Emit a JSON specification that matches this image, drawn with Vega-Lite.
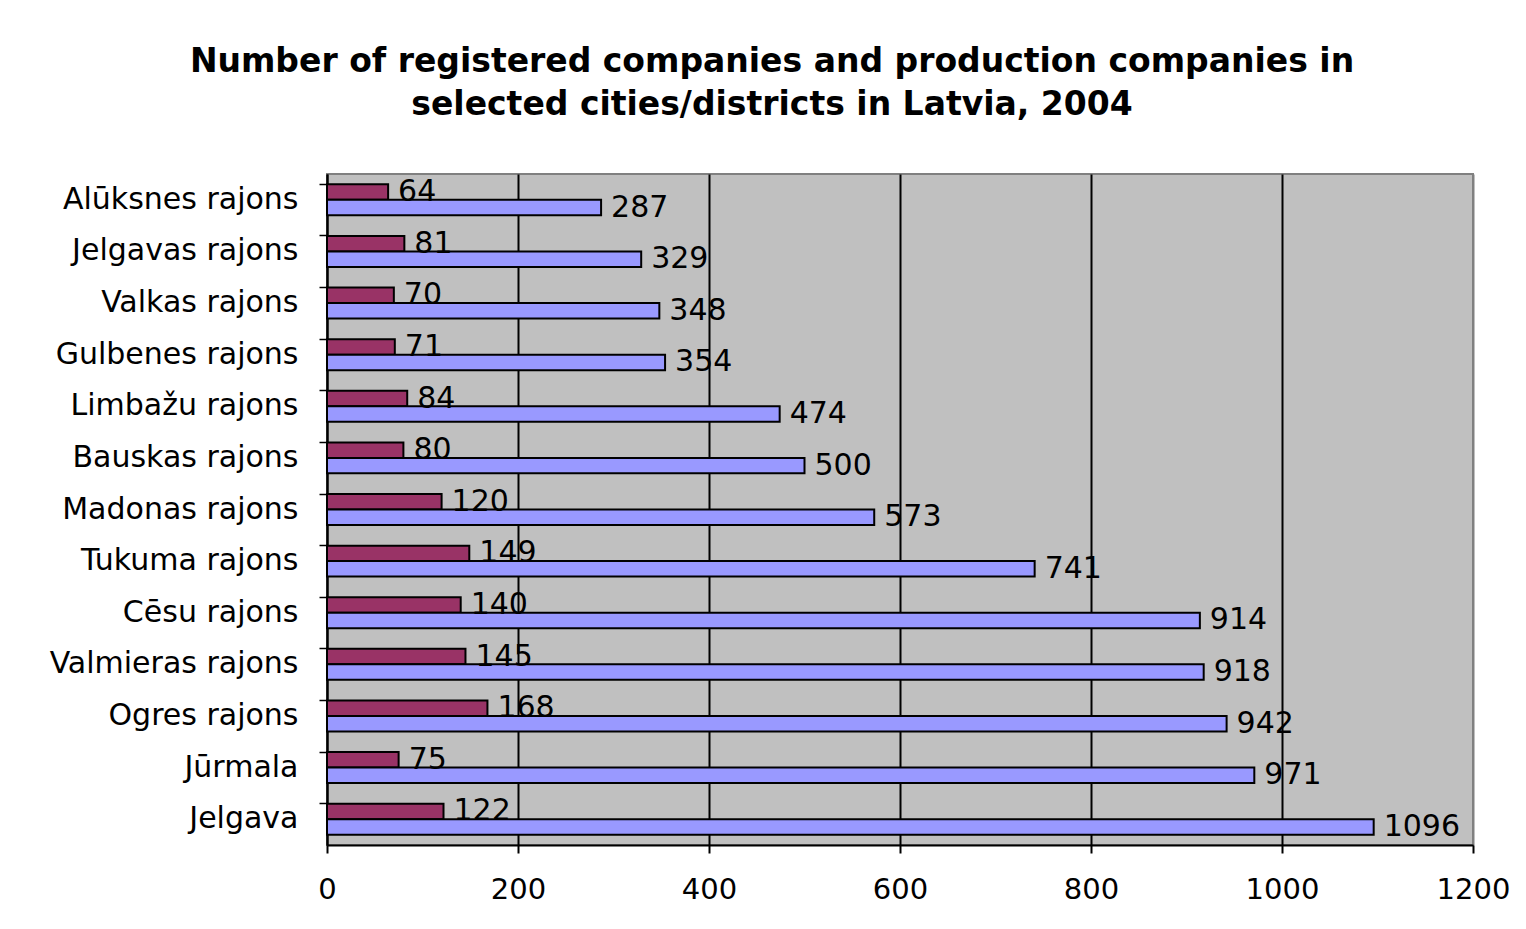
{
  "$schema": "https://vega.github.io/schema/vega-lite/v6.json",
  "autosize": {"type": "none"},
  "width": 1146,
  "height": 671,
  "padding": {"left": 327, "top": 174, "right": 53, "bottom": 84},
  "background": "white",
  "title": {
    "text": ["Number of registered companies and production companies in", "selected cities/districts in Latvia, 2004"],
    "font": "DejaVu Sans",
    "fontSize": 33,
    "fontWeight": "bold",
    "color": "black",
    "anchor": "middle",
    "frame": "group",
    "dx": -128,
    "offset": 52,
    "lineHeight": 43
  },
  "data": {
    "values": [
      {"district": "Alūksnes rajons", "series": "Production companies", "value": 64},
      {"district": "Alūksnes rajons", "series": "Registered companies", "value": 287},
      {"district": "Jelgavas rajons", "series": "Production companies", "value": 81},
      {"district": "Jelgavas rajons", "series": "Registered companies", "value": 329},
      {"district": "Valkas rajons", "series": "Production companies", "value": 70},
      {"district": "Valkas rajons", "series": "Registered companies", "value": 348},
      {"district": "Gulbenes rajons", "series": "Production companies", "value": 71},
      {"district": "Gulbenes rajons", "series": "Registered companies", "value": 354},
      {"district": "Limbažu rajons", "series": "Production companies", "value": 84},
      {"district": "Limbažu rajons", "series": "Registered companies", "value": 474},
      {"district": "Bauskas rajons", "series": "Production companies", "value": 80},
      {"district": "Bauskas rajons", "series": "Registered companies", "value": 500},
      {"district": "Madonas rajons", "series": "Production companies", "value": 120},
      {"district": "Madonas rajons", "series": "Registered companies", "value": 573},
      {"district": "Tukuma rajons", "series": "Production companies", "value": 149},
      {"district": "Tukuma rajons", "series": "Registered companies", "value": 741},
      {"district": "Cēsu rajons", "series": "Production companies", "value": 140},
      {"district": "Cēsu rajons", "series": "Registered companies", "value": 914},
      {"district": "Valmieras rajons", "series": "Production companies", "value": 145},
      {"district": "Valmieras rajons", "series": "Registered companies", "value": 918},
      {"district": "Ogres rajons", "series": "Production companies", "value": 168},
      {"district": "Ogres rajons", "series": "Registered companies", "value": 942},
      {"district": "Jūrmala", "series": "Production companies", "value": 75},
      {"district": "Jūrmala", "series": "Registered companies", "value": 971},
      {"district": "Jelgava", "series": "Production companies", "value": 122},
      {"district": "Jelgava", "series": "Registered companies", "value": 1096}
    ]
  },
  "encoding": {
    "y": {
      "field": "district",
      "type": "nominal",
      "sort": null,
      "title": null,
      "scale": {"paddingInner": 0.4, "paddingOuter": 0.2},
      "axis": {
        "bandPosition": 0,
        "domainColor": "black",
        "domainWidth": 2,
        "tickColor": "black",
        "tickWidth": 1.5,
        "tickSize": 8,
        "labelPadding": 21,
        "labelFont": "DejaVu Sans",
        "labelFontSize": 30,
        "labelLimit": 0,
        "labelColor": "black",
        "grid": false
      }
    },
    "yOffset": {
      "field": "series",
      "type": "nominal",
      "sort": ["Production companies", "Registered companies"],
      "scale": {"paddingInner": 0, "paddingOuter": 0}
    },
    "x": {
      "field": "value",
      "type": "quantitative",
      "title": null,
      "scale": {"domain": [0, 1200], "nice": false},
      "axis": {
        "values": [0, 200, 400, 600, 800, 1000, 1200],
        "format": "d",
        "domainColor": "black",
        "domainWidth": 2,
        "tickColor": "black",
        "tickWidth": 2,
        "tickSize": 8,
        "labelPadding": 22,
        "labelFont": "DejaVu Sans",
        "labelFontSize": 29,
        "labelColor": "black",
        "labelFlush": false,
        "grid": true,
        "gridColor": {"condition": {"test": "datum.value == 1200", "value": "#808080"}, "value": "black"},
        "gridWidth": 2,
        "gridOpacity": 1
      }
    }
  },
  "layer": [
    {
      "mark": {"type": "bar", "stroke": "black", "strokeWidth": 2},
      "encoding": {
        "color": {
          "field": "series",
          "type": "nominal",
          "scale": {"domain": ["Production companies", "Registered companies"], "range": ["#993366", "#9999FF"]},
          "legend": null
        }
      }
    },
    {
      "mark": {"type": "text", "align": "left", "baseline": "middle", "dx": 10, "font": "DejaVu Sans", "fontSize": 30, "color": "black"},
      "encoding": {
        "text": {"field": "value", "type": "quantitative"}
      }
    }
  ],
  "config": {
    "view": {"fill": "#C0C0C0", "stroke": "#808080", "strokeWidth": 2}
  }
}
